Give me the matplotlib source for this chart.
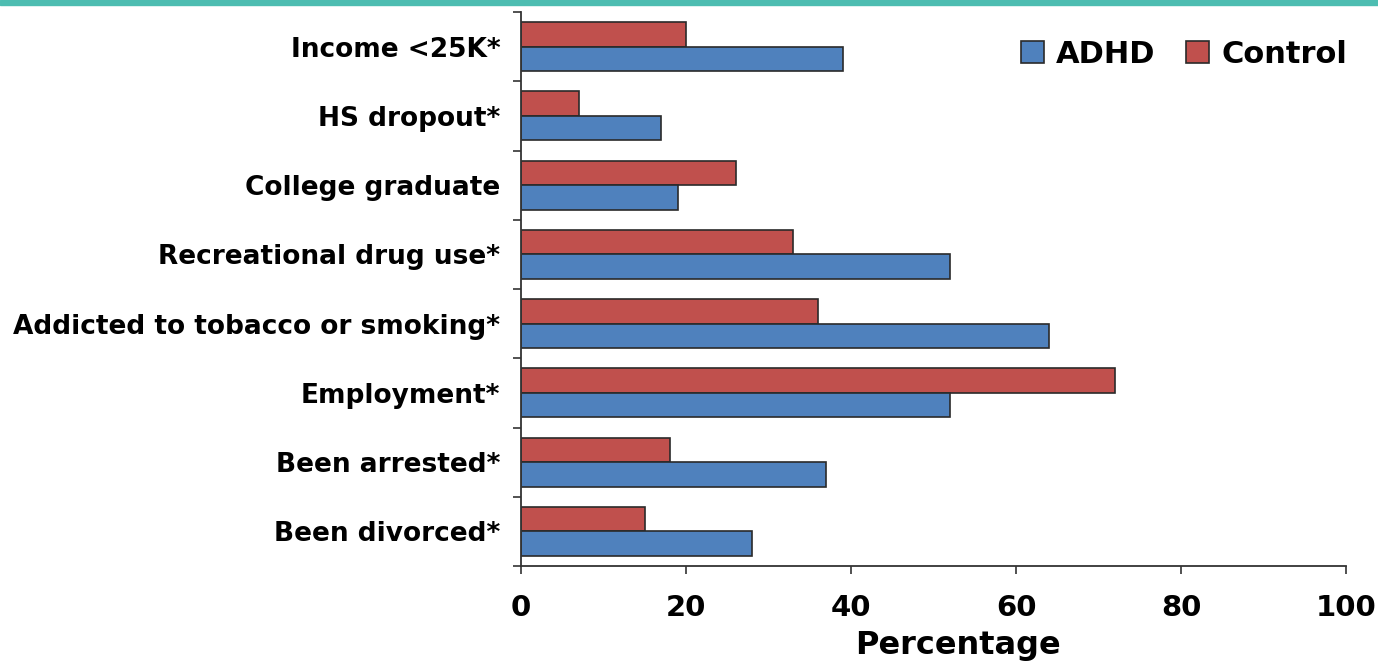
import numpy as np
import matplotlib.pyplot as plt
from matplotlib.patches import Rectangle

plt.rcParams['font.family'] = ['DejaVu Sans']
plt.rcParams['font.weight'] = 'bold'

categories = ["Income <25K*", "HS dropout*", "College graduate",
              "Recreational drug use*", "Addicted to tobacco or smoking*",
              "Employment*", "Been arrested*", "Been divorced*"]
adhd = [39, 17, 19, 52, 64, 52, 37, 28]
control = [20, 7, 26, 33, 36, 72, 18, 15]
xticks = [0, 20, 40, 60, 80, 100]

blue = "#4F81BD"
red = "#C0504D"

fig = plt.figure(figsize=(13.78, 6.63), dpi=100)
fig.patches.append(Rectangle((0, 1 - 5/663), 1, 5/663, transform=fig.transFigure,
                             color="#4DBDB1", zorder=0))
ax = fig.add_axes([521/1378, 97/663, 825/1378, 554/663])

y = np.arange(len(categories))
h = 0.355
ax.barh(y - h/2, control, height=h, color=red, edgecolor="#2a2a2a", lw=1.2, label="Control")
ax.barh(y + h/2, adhd, height=h, color=blue, edgecolor="#2a2a2a", lw=1.2, label="ADHD")

ax.set_ylim(len(categories) - 0.5, -0.5)
ax.set_xlim(0, 100)
ax.set_yticks(np.arange(len(categories) + 1) - 0.5)
ax.set_yticklabels([])
ax.set_yticks(y, minor=True)
ax.set_yticklabels(categories, minor=True, fontsize=19, fontweight='bold')
ax.tick_params(axis='y', which='minor', length=0, pad=15)
ax.tick_params(axis='y', which='major', length=6, width=1.2, color="#333333")
ax.set_xticks(xticks)
ax.set_xticklabels([str(t) for t in xticks], fontsize=21, fontweight='bold')
ax.tick_params(axis='x', length=6, width=1.2, pad=14, color="#333333")
ax.set_xlabel("Percentage", fontsize=23, fontweight='bold', labelpad=6)
ax.xaxis.label.set_x(0.53)
ax.spines['top'].set_visible(False)
ax.spines['right'].set_visible(False)
for s in ('left', 'bottom'):
    ax.spines[s].set_linewidth(1.3)
    ax.spines[s].set_color("#333333")

handles, labels = ax.get_legend_handles_labels()
ax.legend(handles[::-1], labels[::-1], loc='upper right', bbox_to_anchor=(1.035, 1.0),
          ncol=2, frameon=False, handlelength=0.75, handleheight=0.75,
          handletextpad=0.4, columnspacing=1.0, prop={'weight': 'bold', 'size': 22})

fig.savefig("out.png", dpi=100)
